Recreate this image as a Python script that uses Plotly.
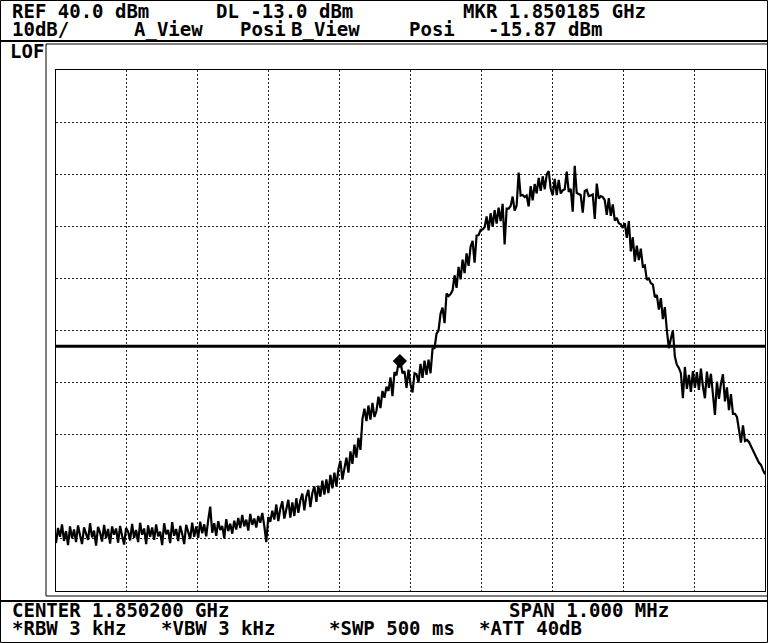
import numpy as np
import plotly.graph_objects as go

center_mhz = 1850.2
span_mhz = 1.0
ref_level_dbm = 40.0
db_per_div = 10.0
display_line_dbm = -13.0
marker_mhz = 1850.185
marker_dbm = -15.87

trace_dbm = [
    -50.8, -47.9, -49.6, -47.2, -50.4, -48.5, -51.2, -47.6, -49.9, -48.2,
    -50.6, -47.4, -49.3, -51.0, -47.8, -48.9, -50.2, -47.0, -49.7, -48.4,
    -51.3, -47.7, -48.8, -50.5, -47.3, -49.9, -48.1, -50.9, -47.6, -49.2,
    -48.0, -50.7, -47.5, -49.4, -51.1, -47.9, -48.6, -50.3, -47.1, -49.8,
    -48.3, -50.6, -46.9, -49.2, -48.0, -51.0, -47.4, -49.6, -47.8, -50.2,
    -47.2, -49.5, -48.6, -51.2, -47.0, -49.1, -48.3, -50.8, -46.8, -49.4,
    -48.1, -50.4, -47.5, -49.0, -51.0, -47.3, -48.8, -50.0, -46.9, -49.6,
    -47.6, -49.8, -46.7, -48.9, -47.2, -49.5, -46.4, -43.8, -48.8, -47.0,
    -49.4, -46.6, -48.3, -47.5, -49.9, -46.2, -48.5, -47.1, -49.0, -46.5,
    -48.2, -46.0, -47.9, -45.4, -47.6, -46.3, -48.4, -45.2, -47.3, -46.1,
    -47.8, -45.6, -46.9, -45.0, -47.5, -50.6, -45.8, -46.7, -44.6, -46.3,
    -43.4, -46.6, -44.2, -42.8, -46.1, -43.9, -42.5, -45.9, -43.0, -45.6,
    -42.2, -45.0, -42.6, -41.3, -44.5, -41.8, -40.6, -43.9, -41.2, -39.9,
    -42.9, -39.8, -41.9, -38.8, -41.5, -38.6, -41.2, -37.7, -40.3, -37.3,
    -39.9, -36.6, -35.0, -38.6, -36.3, -34.4, -37.3, -33.2, -35.6, -31.9,
    -34.4, -30.6, -32.9, -27.0, -25.0, -27.4, -24.4, -27.1, -23.9, -26.6,
    -25.4, -22.7, -24.9, -21.6, -22.9, -20.8, -21.6, -19.0, -22.6, -18.0,
    -18.6, -16.2, -16.0, -18.2, -17.8, -21.0, -17.5, -20.3, -21.9, -18.2,
    -18.4, -20.0, -16.4, -19.1, -15.8, -18.5, -15.6, -18.2, -13.5, -13.4,
    -10.6, -10.0, -6.8, -5.6, -8.6, -2.9, -3.4, -3.0, -2.3, 0.6,
    -1.8, 2.2, -0.2, 3.6, 1.0, 4.8, 2.4, 6.1, 7.2, 3.0,
    8.2, 8.3, 9.3, 9.4, 9.8, 11.9, 9.2, 12.5, 9.9, 13.1,
    10.5, 13.6, 11.0, 14.3, 6.5, 13.4, 13.4, 13.9, 15.7, 13.0,
    14.0, 20.3, 15.9, 16.0, 15.6, 15.9, 13.8, 17.7, 15.0, 18.1,
    16.3, 19.3, 16.8, 19.6, 17.1, 19.9, 20.6, 17.2, 16.0, 19.1,
    16.0, 18.9, 16.3, 16.9, 17.1, 20.5, 16.6, 17.2, 12.8, 21.6,
    16.4, 16.2, 16.0, 12.6, 16.8, 17.0, 15.8, 15.9, 16.1, 11.4,
    18.2, 15.3, 15.8, 15.6, 15.0, 12.2, 15.4, 12.0, 14.2, 11.1,
    11.6, 10.6, 10.4, 9.7, 10.6, 7.8, 11.0, 5.2, 7.9, 3.2,
    6.3, 3.5, 5.7, 2.3, 2.5, -0.3, 0.0, -0.9, -1.2, -3.6,
    -3.2, -6.0, -3.8, -7.8, -5.5, -10.0, -13.4, -11.6, -10.0, -15.0,
    -16.6, -17.2, -18.2, -23.0, -17.0, -21.2, -18.5, -21.8, -17.8, -21.0,
    -18.0, -21.4, -17.3, -20.7, -23.0, -17.9, -21.0, -18.3, -22.2, -26.2,
    -19.8, -23.1, -20.2, -18.4, -23.6, -20.9, -25.3, -22.2, -26.0, -26.0,
    -26.6, -29.4, -31.5, -28.2, -31.2, -31.0, -31.4, -32.2, -32.9, -33.8,
    -34.6, -35.4, -35.8, -36.8, -37.6,
]

header_row1 = ["REF 40.0 dBm", "DL -13.0 dBm", "MKR 1.850185 GHz"]
header_row2 = ["10dB/", "A_View", "Posi", "B_View", "Posi", "-15.87 dBm"]
footer_row1 = ["CENTER 1.850200 GHz", "SPAN 1.000 MHz"]
footer_row2 = ["*RBW 3 kHz", "*VBW 3 kHz", "*SWP 500 ms", "*ATT 40dB"]

# ---- layout geometry (pixels) ----
W, H = 768, 643
L, R, T, B = 56, 765, 70, 591
PW, PH = R - L, B - T

def px(x):
    return (x - L) / PW

def py(y):
    return (B - y) / PH

f_start = center_mhz - span_mhz / 2
f_stop = center_mhz + span_mhz / 2
freqs = np.linspace(f_start, f_stop, len(trace_dbm))
bottom_dbm = ref_level_dbm - 10 * db_per_div

FONT = dict(family="DejaVu Sans Mono", size=19, color="black", weight="bold")

fig = go.Figure()
fig.add_trace(go.Scatter(x=freqs, y=trace_dbm, mode="lines",
                         line=dict(color="black", width=2.2), hoverinfo="skip"))
fig.add_trace(go.Scatter(x=[f_start, f_stop], y=[display_line_dbm, display_line_dbm],
                         mode="lines", line=dict(color="black", width=3), hoverinfo="skip"))
fig.add_trace(go.Scatter(x=[marker_mhz], y=[marker_dbm], mode="markers",
                         marker=dict(symbol="diamond", size=11, color="black"), hoverinfo="skip"))

grid = dict(showticklabels=False, ticks="", showgrid=True,
            gridcolor="#222222", griddash="2px,2px", gridwidth=1,
            zeroline=False, showline=True, linecolor="black", linewidth=1, mirror=True)
fig.update_xaxes(range=[f_start, f_stop], dtick=span_mhz / 10, tick0=f_start, **grid)
fig.update_yaxes(range=[bottom_dbm, ref_level_dbm], dtick=db_per_div, tick0=bottom_dbm, **grid)

shapes = []
def rect(x0, y0, x1, y1, w=1):
    shapes.append(dict(type="rect", xref="paper", yref="paper",
                       x0=px(x0), x1=px(x1), y0=py(y1), y1=py(y0),
                       line=dict(color="black", width=w), fillcolor="rgba(0,0,0,0)"))
def hline(x0, x1, y, w=1):
    shapes.append(dict(type="line", xref="paper", yref="paper",
                       x0=px(x0), x1=px(x1), y0=py(y), y1=py(y),
                       line=dict(color="black", width=w)))

rect(0.5, 0.5, 767.5, 642.5, 1)      # outer frame
hline(0, 768, 41, 2)                 # header separator
hline(0, 768, 601, 2)                # footer separator
rect(46, 44, 767.5, 596, 1)          # LOF box

annotations = []
def text(s, x, y):
    annotations.append(dict(text=s, xref="paper", yref="paper", x=px(x), y=py(y),
                            xanchor="left", yanchor="middle", showarrow=False, font=FONT))

for s, x in zip(header_row1, [10, 214, 461]):
    text(s, x, 11)
for s, x in zip(header_row2, [10, 132, 238, 289, 407, 486]):
    text(s, x, 29)
text("LOF", 8, 51)
for s, x in zip(footer_row1, [10, 507]):
    text(s, x, 610)
for s, x in zip(footer_row2, [10, 159, 327, 477]):
    text(s, x, 628)

fig.update_layout(width=W, height=H, margin=dict(l=L, r=W - R, t=T, b=H - B),
                  paper_bgcolor="white", plot_bgcolor="white", showlegend=False,
                  shapes=shapes, annotations=annotations)

fig.write_html("out.html", config={"displayModeBar": False, "staticPlot": True})
with open("out.html", "r", encoding="utf-8") as fh:
    page = fh.read()
page = page.replace("<body>", '<body style="margin:0;padding:0;overflow:hidden">', 1)
with open("out.html", "w", encoding="utf-8") as fh:
    fh.write(page)
